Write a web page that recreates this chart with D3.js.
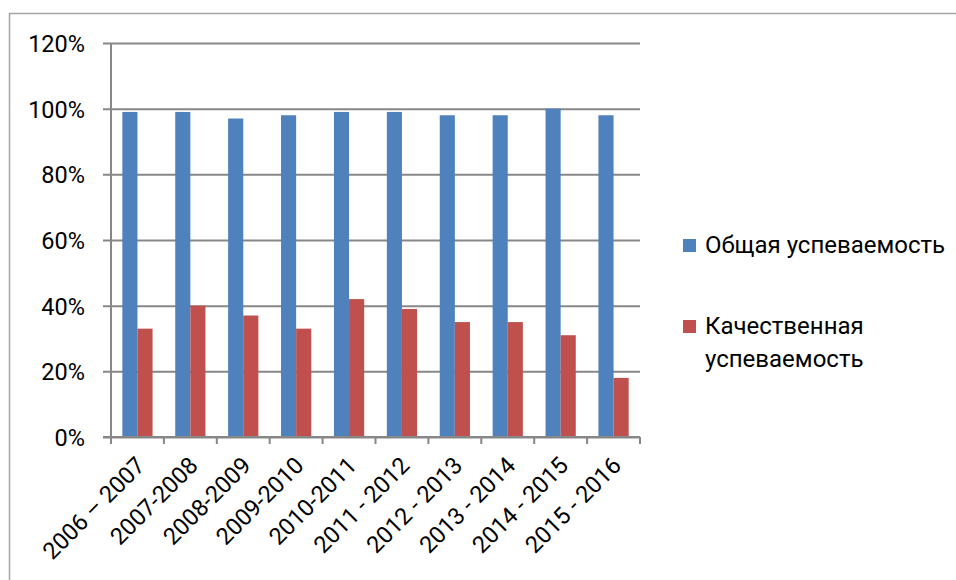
<!DOCTYPE html>
<html>
<head>
<meta charset="utf-8">
<script src="https://cdn.jsdelivr.net/npm/d3@7"></script>
<style>
  body { margin: 0; background: #fff; }
  text { font-family: Roboto, "Open Sans", sans-serif; fill: #000; }
</style>
</head>
<body>
<div id="chart"></div>
<script>
var years = ["2006 – 2007", "2007-2008", "2008-2009", "2009-2010", "2010-2011",
  "2011 - 2012", "2012 - 2013", "2013 - 2014", "2014 - 2015", "2015 - 2016"];
var seriesNames = ["Общая успеваемость", "Качественная успеваемость"];
var overall = [0.99, 0.99, 0.97, 0.98, 0.99, 0.99, 0.98, 0.98, 1.00, 0.98];
var quality = [0.33, 0.40, 0.37, 0.33, 0.42, 0.39, 0.35, 0.35, 0.31, 0.18];
var yTicks = [0, 0.2, 0.4, 0.6, 0.8, 1.0, 1.2];
var colors = ["#4f81bd", "#c0504d"];

var width = 956, height = 580;
var plot = { left: 111, right: 640, top: 43, bottom: 437 };

var svg = d3.select("#chart")
  .append("svg")
  .attr("width", width)
  .attr("height", height);

// outer frame (runs off the right and bottom edges)
svg.append("path")
  .attr("d", "M9.5," + (height + 5) + "V13.5H" + (width + 5))
  .attr("fill", "none")
  .attr("stroke", "#a6a6a6")
  .attr("stroke-width", 1.5);

var x = d3.scaleBand()
  .domain(years)
  .range([plot.left, plot.right])
  .padding(0);

var x1 = d3.scaleBand()
  .domain(seriesNames)
  .range([0, x.bandwidth()])
  .paddingInner(0)
  .paddingOuter(0.75);

var y = d3.scaleLinear()
  .domain([0, 1.2])
  .range([plot.bottom, plot.top]);

// gridlines + y axis
var yAxis = svg.append("g")
  .attr("transform", "translate(" + plot.left + ",0)")
  .call(d3.axisLeft(y).tickValues(yTicks).tickFormat(d3.format(".0%"))
    .tickSize(-(plot.right - plot.left)).tickPadding(26));
yAxis.select(".domain").remove();
yAxis.selectAll(".tick line")
  .attr("x1", -8)
  .attr("stroke", "#878787")
  .attr("stroke-width", 2);
yAxis.selectAll(".tick text")
  .attr("dy", "0.36em")
  .style("font-size", "23.5px");

var data = years.map(function (d, i) {
  return { year: d, values: [overall[i], quality[i]] };
});

svg.append("g")
  .selectAll("g")
  .data(data)
  .enter()
  .append("g")
  .attr("transform", function (d) { return "translate(" + x(d.year) + ",0)"; })
  .selectAll("rect")
  .data(function (d) { return d.values.map(function (v, k) { return { key: seriesNames[k], v: v, k: k }; }); })
  .enter()
  .append("rect")
  .attr("x", function (d) { return x1(d.key); })
  .attr("y", function (d) { return y(d.v); })
  .attr("width", x1.bandwidth())
  .attr("height", function (d) { return plot.bottom - y(d.v); })
  .attr("fill", function (d) { return colors[d.k]; });

// vertical axis line
svg.append("line")
  .attr("x1", plot.left).attr("x2", plot.left)
  .attr("y1", plot.top).attr("y2", plot.bottom)
  .attr("stroke", "#878787")
  .attr("stroke-width", 2);

// x axis
var xEdges = d3.range(years.length + 1).map(function (i) {
  return plot.left + i * x.step();
});
var xAxis = svg.append("g")
  .attr("transform", "translate(0," + plot.bottom + ")");
xAxis.append("line")
  .attr("x1", plot.left - 8).attr("x2", plot.right)
  .attr("stroke", "#878787")
  .attr("stroke-width", 2);
xAxis.selectAll(".edge")
  .data(xEdges)
  .enter()
  .append("line")
  .attr("x1", function (d) { return d; })
  .attr("x2", function (d) { return d; })
  .attr("y1", 0).attr("y2", 7)
  .attr("stroke", "#878787")
  .attr("stroke-width", 2);
xAxis.selectAll(".lbl")
  .data(years)
  .enter()
  .append("text")
  .attr("text-anchor", "end")
  .attr("transform", function (d) {
    return "translate(" + (x(d) + x.bandwidth() / 2 + 3) + ",24) rotate(-45)";
  })
  .attr("dy", "0.36em")
  .style("font-size", "23.5px")
  .text(function (d) { return d; });

// legend
var legendItems = [
  { lines: ["Общая успеваемость"], color: colors[0], y: 239 },
  { lines: ["Качественная", "успеваемость"], color: colors[1], y: 320 }
];
var legend = svg.append("g");
legendItems.forEach(function (item) {
  legend.append("rect")
    .attr("x", 683).attr("y", item.y)
    .attr("width", 13).attr("height", 13)
    .attr("fill", item.color);
  var t = legend.append("text")
    .attr("x", 705)
    .attr("y", item.y + 14)
    .style("font-size", "24px");
  item.lines.forEach(function (line, j) {
    t.append("tspan")
      .attr("x", 705)
      .attr("dy", j === 0 ? 0 : 33)
      .text(line);
  });
});
</script>
</body>
</html>
